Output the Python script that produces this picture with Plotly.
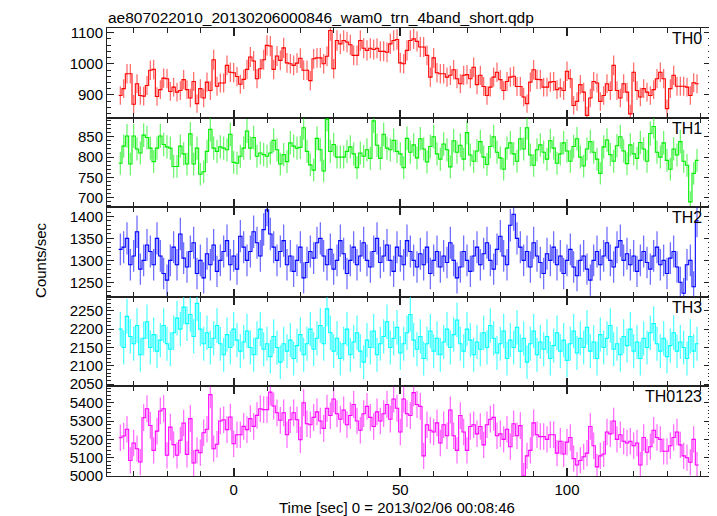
import numpy as np
import plotly.graph_objects as go
from plotly.subplots import make_subplots

title = "ae807022010_20130206000846_wam0_trn_4band_short.qdp"
x_title = "Time [sec] 0 = 2013/02/06 00:08:46"
y_title = "Counts/sec"
panel_names = ["TH0", "TH1", "TH2", "TH3", "TH0123"]
colors = ["#ff0000", "#00ee00", "#0000ff", "#00ffff", "#ff00ff"]
err_colors = ["rgba(255,0,0,0.6)", "rgba(0,238,0,0.6)", "rgba(0,0,255,0.6)",
              "rgba(0,255,255,0.7)", "rgba(255,0,255,0.6)"]

t_start = -34
bin_width = 1.0

th0 = [898, 920, 968, 968, 870, 936, 898, 896, 930, 979,
       982, 895, 917, 954, 952, 911, 925, 909, 914, 949,
       917, 890, 943, 872, 920, 890, 941, 914, 1013, 928,
       938, 938, 995, 973, 971, 959, 934, 950, 982, 1022,
       1009, 952, 984, 1013, 1059, 1057, 982, 1025, 1011, 1051,
       1003, 1000, 995, 1002, 1018, 979, 979, 946, 1016, 1019,
       1019, 1000, 1024, 1107, 984, 1075, 1064, 1075, 1070, 1061,
       1027, 1027, 1075, 1050, 1043, 1050, 1046, 1050, 1040, 1040,
       1037, 1064, 1075, 1078, 1003, 1000,
       1043, 1075, 1080, 1072, 1054, 1054, 1027, 957, 1019, 971,
       968, 968, 957, 963, 981, 952, 936, 963, 965, 952,
       989, 933, 963, 927, 898, 925, 957, 973, 949, 914,
       943, 957, 960, 927, 927, 893, 872, 941, 981, 950,
       949, 925, 925, 941, 943, 917, 922, 914, 976, 952,
       866, 879, 933, 909, 834, 890, 943, 938, 879, 898,
       936, 914, 995, 914, 890, 936, 909, 839, 973, 914,
       893, 920, 909, 898, 917, 952, 973, 952, 856, 920,
       963, 928, 928, 928, 925, 898, 939, 936]

th1 = [785, 827, 852, 783, 852, 820, 810, 854, 848, 822,
       789, 822, 852, 831, 825, 822, 777, 777, 827, 808,
       783, 857, 783, 822, 758, 764, 814, 868, 822, 814,
       825, 822, 818, 856, 787, 785, 802, 822, 864, 822,
       848, 802, 810, 806, 802, 810, 841, 818, 783, 806,
       789, 835, 827, 822, 824, 872, 814, 781, 768, 846,
       818, 766, 893, 814, 831, 800, 800, 800, 814, 825,
       808, 774, 810, 802, 818, 797, 889, 829, 797, 856,
       822, 818, 841, 814, 808, 774, 846,
       812, 830, 798, 845, 820, 788, 826, 850, 808, 795,
       832, 818, 776, 840, 812, 829, 795, 860, 805, 790,
       815, 838, 800, 782, 826, 850, 812, 798, 770, 822,
       835, 808, 790, 845, 820, 872, 805, 780, 818, 830,
       812, 795, 840, 822, 785, 808, 835, 815, 790, 826,
       845, 800, 778, 820, 838, 812, 795, 760, 825, 842,
       806, 790, 828, 850, 815, 784, 830, 808, 797, 836,
       820, 790, 858, 875, 812, 800, 835, 792, 770, 820,
       805, 838, 790, 780, 690, 760, 792]

th2 = [1325, 1330, 1350, 1290, 1310, 1365, 1280, 1300, 1335, 1320,
       1290, 1350, 1310, 1270, 1255, 1300, 1330, 1290, 1360, 1305,
       1285, 1320, 1340, 1270, 1300, 1260, 1315, 1290, 1335, 1275,
       1300, 1320, 1345, 1290, 1310, 1280, 1355, 1330, 1300, 1320,
       1365, 1340, 1310, 1370, 1415, 1360, 1330, 1300, 1320, 1345,
       1290, 1310, 1275, 1300, 1330, 1260, 1295, 1320, 1305, 1340,
       1350, 1310, 1290, 1325, 1280, 1300, 1345, 1315, 1270, 1300,
       1330, 1290, 1310, 1340, 1300, 1285, 1320, 1350, 1295, 1310,
       1335, 1300, 1275, 1330, 1310, 1290, 1345, 1320, 1300, 1285,
       1315, 1290, 1330, 1270, 1300, 1320, 1285, 1310, 1295, 1340,
       1300, 1260, 1285, 1320, 1300, 1275, 1310, 1330, 1290, 1315,
       1340, 1300, 1280, 1325, 1355, 1310, 1290, 1380, 1405, 1350,
       1330, 1300, 1320, 1285, 1340, 1310, 1295, 1270, 1315, 1300,
       1330, 1290, 1310, 1270, 1300, 1325, 1285, 1265, 1300, 1310,
       1280, 1255, 1300, 1320, 1290, 1310, 1340, 1300, 1285, 1330,
       1345, 1300, 1315, 1290, 1310, 1275, 1300, 1320, 1295, 1280,
       1310, 1330, 1290, 1300, 1270, 1305, 1320, 1285, 1250, 1225,
       1290, 1300, 1240, 1390]

th3 = [2200, 2150, 2235, 2180, 2160, 2210, 2130, 2175, 2220, 2150,
       2185, 2140, 2170, 2210, 2160, 2145, 2190, 2230, 2200, 2260,
       2215, 2240, 2180, 2270, 2200, 2160, 2190, 2150, 2175, 2210,
       2160, 2130, 2185, 2150, 2200, 2170, 2140, 2165, 2195, 2150,
       2130, 2175, 2200, 2145, 2160, 2125, 2180, 2150, 2110, 2160,
       2140, 2170, 2120, 2155, 2185, 2130, 2160, 2200, 2145, 2175,
       2210, 2160, 2255, 2190, 2140, 2175, 2120, 2160, 2200, 2130,
       2165, 2190, 2140, 2110, 2170, 2150, 2195, 2130, 2160, 2180,
       2220, 2150, 2175, 2205, 2135, 2160, 2190, 2240, 2170, 2145,
       2180, 2120, 2160, 2195, 2140, 2175, 2130, 2165, 2200, 2150,
       2185, 2225, 2160, 2140, 2200, 2170, 2130, 2165, 2145, 2190,
       2150, 2210, 2175, 2135, 2160, 2195, 2120, 2170, 2150, 2205,
       2140, 2175, 2110, 2160, 2195, 2130, 2165, 2145, 2180, 2120,
       2155, 2190, 2140, 2170, 2115, 2160, 2195, 2135, 2175, 2150,
       2205, 2140, 2165, 2120, 2185, 2150, 2175, 2210, 2145, 2160,
       2130, 2180, 2155, 2200, 2140, 2165, 2120, 2175, 2150, 2190,
       2215, 2160, 2140, 2175, 2125, 2155, 2190, 2140, 2165, 2150,
       2120, 2180, 2140, 2160]

th0123 = [5209, 5218, 5255, 5085, 5180, 5149, 5076, 5318, 5367, 5276,
          5140, 5245, 5355, 5367, 5113, 5267, 5171, 5113, 5195, 5289,
          5118, 5313, 5071, 5140, 5127, 5236, 5255, 5444, 5149, 5173,
          5300, 5307, 5253, 5322, 5176, 5225, 5225, 5271, 5253, 5313,
          5271, 5331, 5367, 5362, 5362, 5458, 5382, 5345, 5304, 5345,
          5225, 5307, 5345, 5307, 5198, 5400, 5285,
          5280, 5320, 5350, 5300, 5260, 5370, 5330, 5420, 5340, 5310,
          5360, 5280, 5330, 5390, 5300, 5250, 5340, 5380, 5320, 5270,
          5350, 5300, 5340, 5390, 5310, 5420, 5370,
          5240, 5420, 5340, 5330, 5455, 5390, 5380, 5110, 5280, 5250,
          5240, 5290, 5180, 5280, 5220, 5360, 5220, 5140, 5330, 5240,
          5140, 5270, 5280, 5230, 5270, 5170, 5280, 5310, 5320, 5220,
          5230, 5200, 5255, 5160, 5285, 5220, 5275, 5000, 5110, 5140,
          5290, 5225, 5215, 5215, 5200, 5225, 5225, 5125, 5190, 5120,
          5185, 5210, 5095, 5060, 5085, 5105, 5125, 5270, 5165, 5050,
          5110, 5120, 5240, 5230, 5300, 5200, 5225, 5190, 5180, 5190,
          5165, 5180, 5060, 5210, 5130, 5160, 5250, 5210, 5200, 5135,
          5135, 5165, 5210, 5240, 5170, 5110, 5100, 5075, 5200, 5060]

series = [th0, th1, th2, th3, th0123]
y_ranges = [[827, 1115], [677, 897], [1217, 1421], [2044, 2288], [5000, 5489]]
y_major = [100, 50, 50, 50, 100]
y_minor = [20, 10, 10, 10, 20]
x_range = [-38, 143.2]

FONT = "Liberation Sans, Arial, Helvetica, sans-serif"
AXC = "#222222"

fig = make_subplots(rows=5, cols=1, shared_xaxes=True, vertical_spacing=0)

for i, vals in enumerate(series):
    v = np.array(vals, dtype=float)
    t = t_start + np.arange(len(v)) * bin_width
    edges = np.concatenate([t - bin_width / 2, [t[-1] + bin_width / 2]])
    ys = np.concatenate([v, [v[-1]]])
    c = colors[i]
    fig.add_trace(go.Scatter(x=t, y=v, mode="markers",
                             marker=dict(size=1, color=err_colors[i]),
                             error_y=dict(type="data", array=np.sqrt(v),
                                          width=0, thickness=1.2,
                                          color=err_colors[i])),
                  row=i + 1, col=1)
    fig.add_trace(go.Scatter(x=edges, y=ys, mode="lines",
                             line=dict(shape="hv", color=c, width=1.1),
                             hoverinfo="skip"), row=i + 1, col=1)
    fig.update_yaxes(range=y_ranges[i], dtick=y_major[i], tick0=0,
                     ticks="inside", ticklen=7, tickwidth=1, tickcolor=AXC,
                     minor=dict(dtick=y_minor[i], tick0=0, ticks="inside",
                                ticklen=3.5, tickcolor=AXC, tickwidth=1),
                     mirror="allticks", showline=True, linecolor=AXC,
                     linewidth=1, showgrid=False, zeroline=False,
                     tickfont=dict(size=15, color="black", family=FONT),
                     row=i + 1, col=1)
    fig.update_xaxes(range=x_range, dtick=50, tick0=0,
                     ticks="inside", ticklen=8, tickwidth=1.5, tickcolor=AXC,
                     minor=dict(dtick=10, tick0=0, ticks="inside",
                                ticklen=5, tickcolor=AXC, tickwidth=1),
                     mirror="allticks", showline=True, linecolor=AXC,
                     linewidth=1, showgrid=False, zeroline=False,
                     showticklabels=(i == 4),
                     tickfont=dict(size=15, color="black", family=FONT),
                     row=i + 1, col=1)

annotations = [
    dict(text=title, xref="paper", yref="paper", x=0, y=1, xanchor="left",
         yanchor="bottom", yshift=1, borderpad=0, showarrow=False,
         font=dict(size=15.5, color="black", family=FONT)),
    dict(text=y_title, xref="paper", yref="paper", x=-0.111, y=0.5,
         xanchor="center", yanchor="middle", yshift=-8, textangle=-90,
         showarrow=False, font=dict(size=15, color="black", family=FONT)),
    dict(text=x_title, xref="paper", yref="paper", x=0.48, y=0,
         xanchor="center", yanchor="middle", yshift=-31, showarrow=False,
         font=dict(size=15, color="black", family=FONT)),
]
for i, name in enumerate(panel_names):
    annotations.append(dict(text=name, xref="paper", yref="paper", x=1,
                            y=1 - i * 0.2, xanchor="right", yanchor="top",
                            xshift=-7, yshift=0, showarrow=False,
                            font=dict(size=16, color="black", family=FONT)))

# the page body adds an 8 px offset, so the figure is sized to fit the window
fig.update_layout(width=709, height=508,
                  margin=dict(l=99, r=6, t=20, b=40),
                  plot_bgcolor="white", paper_bgcolor="white",
                  showlegend=False, annotations=annotations,
                  font=dict(family=FONT, color="black"))

fig.write_html("out.html")
